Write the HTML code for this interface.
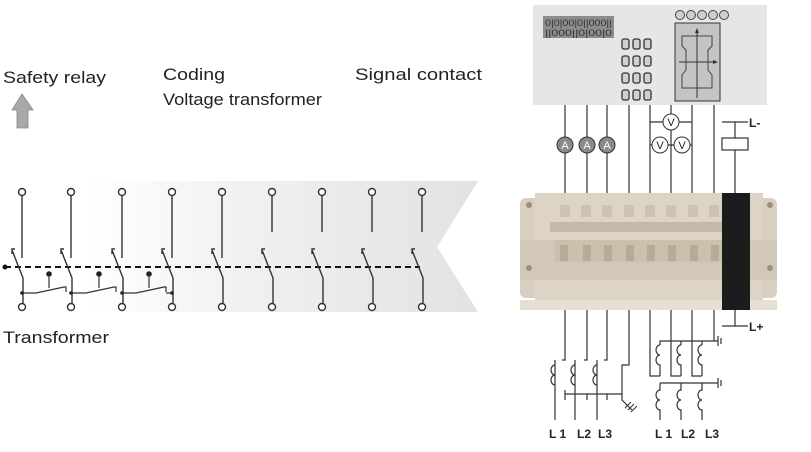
<!DOCTYPE html>
<html><head><meta charset="utf-8"><style>
html,body{margin:0;padding:0;background:#fff;}
svg{display:block;font-family:"Liberation Sans",sans-serif;}
</style></head><body>
<svg width="811" height="452" viewBox="0 0 811 452" xmlns="http://www.w3.org/2000/svg">
<defs>
<linearGradient id="g" x1="0" x2="1" y1="0" y2="0">
<stop offset="0" stop-color="#ffffff"/><stop offset="0.15" stop-color="#ffffff"/><stop offset="0.5" stop-color="#f0f0f0"/><stop offset="1" stop-color="#e2e2e2"/>
</linearGradient>
</defs>
<polygon points="20,181 478,181 437,247 478,312 20,312" fill="url(#g)"/>
<text x="3" y="83" font-size="17" fill="#222" textLength="103" lengthAdjust="spacingAndGlyphs">Safety relay</text>
<polygon points="22,94 33,110 28,110 28,128 17,128 17,110 12,110" fill="#a8a8a8" stroke="#888" stroke-width="0.8"/>
<text x="163" y="80" font-size="17" fill="#222" textLength="62" lengthAdjust="spacingAndGlyphs">Coding</text>
<text x="163" y="105" font-size="17" fill="#222" textLength="159" lengthAdjust="spacingAndGlyphs">Voltage transformer</text>
<text x="355" y="80" font-size="17" fill="#222" textLength="127" lengthAdjust="spacingAndGlyphs">Signal contact</text>
<text x="3" y="343" font-size="17" fill="#222" textLength="106" lengthAdjust="spacingAndGlyphs">Transformer</text>
<line x1="5" y1="267" x2="420" y2="267" stroke-dasharray="6,4" stroke-width="2" stroke="#111"/>
<circle cx="5" cy="267" r="2.5" fill="#111"/>
<g stroke="#333" stroke-width="1.4" fill="none">
<path d="M22,196 V258 M12,254 V249 H15 M12,250 L23,278 V303"/>
<path d="M71,196 V258 M61,254 V249 H64 M61,250 L72,278 V303"/>
<path d="M122,196 V258 M112,254 V249 H115 M112,250 L123,278 V303"/>
<path d="M172,196 V258 M162,254 V249 H165 M162,250 L173,278 V303"/>
<path d="M222,196 V258 M212,254 V249 H215 M212,250 L223,278 V303"/>
<path d="M272,196 V232 M262,254 V249 H265 M262,250 L273,278 V303"/>
<path d="M322,196 V232 M312,254 V249 H315 M312,250 L323,278 V303"/>
<path d="M372,196 V232 M362,254 V249 H365 M362,250 L373,278 V303"/>
<path d="M422,196 V232 M412,254 V249 H415 M412,250 L423,278 V303"/>
<path d="M22,293 H36 L64,287 H66 V292 M71,293 H86 L114,287 H116 V292 M122,293 H136 L164,287 H166 V292 M166,293 H172" stroke-width="1.2"/>
<path d="M49,277 V288 M99,277 V288 M149,277 V288" stroke-width="1.2"/>
</g>
<g fill="#222"><circle cx="49" cy="274" r="2.8"/><circle cx="99" cy="274" r="2.8"/><circle cx="149" cy="274" r="2.8"/>
<circle cx="22" cy="293" r="1.8"/><circle cx="71" cy="293" r="1.8"/><circle cx="122" cy="293" r="1.8"/><circle cx="172" cy="293" r="1.8"/></g>
<g fill="#fff" stroke="#333" stroke-width="1.4">
<circle cx="22" cy="192" r="3.5"/><circle cx="71" cy="192" r="3.5"/><circle cx="122" cy="192" r="3.5"/><circle cx="172" cy="192" r="3.5"/><circle cx="222" cy="192" r="3.5"/><circle cx="272" cy="192" r="3.5"/><circle cx="322" cy="192" r="3.5"/><circle cx="372" cy="192" r="3.5"/><circle cx="422" cy="192" r="3.5"/>
<circle cx="22" cy="307" r="3.5"/><circle cx="71" cy="307" r="3.5"/><circle cx="122" cy="307" r="3.5"/><circle cx="172" cy="307" r="3.5"/><circle cx="222" cy="307" r="3.5"/><circle cx="272" cy="307" r="3.5"/><circle cx="322" cy="307" r="3.5"/><circle cx="372" cy="307" r="3.5"/><circle cx="422" cy="307" r="3.5"/>
</g>

<rect x="533" y="5" width="234" height="100" fill="#e6e6e6"/>
<rect x="543" y="16" width="71" height="22" fill="#8c8c8c"/>
<text x="545" y="26" font-size="9" fill="#333" textLength="67" lengthAdjust="spacingAndGlyphs">0|0|00|0||000||</text>
<text x="545" y="36" font-size="9" fill="#333" textLength="67" lengthAdjust="spacingAndGlyphs">||000||0|00|0</text>
<g fill="#d0d0d0" stroke="#333" stroke-width="1.3">
<rect x="622" y="39" width="7" height="10" rx="2"/><rect x="633" y="39" width="7" height="10" rx="2"/><rect x="644" y="39" width="7" height="10" rx="2"/>
<rect x="622" y="56" width="7" height="10" rx="2"/><rect x="633" y="56" width="7" height="10" rx="2"/><rect x="644" y="56" width="7" height="10" rx="2"/>
<rect x="622" y="73" width="7" height="10" rx="2"/><rect x="633" y="73" width="7" height="10" rx="2"/><rect x="644" y="73" width="7" height="10" rx="2"/>
<rect x="622" y="90" width="7" height="10" rx="2"/><rect x="633" y="90" width="7" height="10" rx="2"/><rect x="644" y="90" width="7" height="10" rx="2"/>
</g>
<g fill="#cfcfcf" stroke="#444" stroke-width="1">
<circle cx="680" cy="15" r="4.5"/><circle cx="691" cy="15" r="4.5"/><circle cx="702" cy="15" r="4.5"/><circle cx="713" cy="15" r="4.5"/><circle cx="724" cy="15" r="4.5"/>
</g>
<rect x="675" y="23" width="45" height="78" fill="#c4c4c4" stroke="#333" stroke-width="1"/>
<path d="M682,36 H712 V46 L708,50 V70 L712,75 V88 H682 V75 L686,70 V50 L682,46 Z" fill="none" stroke="#444" stroke-width="1"/>
<path d="M697,98 V30 M679,62 H716" stroke="#333" stroke-width="1"/>
<polygon points="697,28 695,33 699,33" fill="#333"/><polygon points="718,62 713,60 713,64" fill="#333"/>

<g stroke="#333" stroke-width="1.2" fill="none">
<path d="M565,105 V195 M587,105 V195 M607,105 V195 M629,105 V195 M650,105 V195 M671,105 V195 M692,105 V195 M714,105 V195"/>
<path d="M650,122 H692 M650,145 H692"/>
<path d="M722,122 H748 M735,122 V195"/>
</g>
<rect x="722" y="138" width="26" height="12" fill="#fff" stroke="#333" stroke-width="1.2"/>
<text x="749" y="127" font-size="12" font-weight="bold" fill="#222">L-</text>
<g stroke="#333" stroke-width="1">
<circle cx="565" cy="145" r="8" fill="#8a8a8a"/><circle cx="587" cy="145" r="8" fill="#8a8a8a"/><circle cx="607" cy="145" r="8" fill="#8a8a8a"/>
<circle cx="671" cy="122" r="8" fill="#fff"/><circle cx="660" cy="145" r="8" fill="#fff"/><circle cx="682" cy="145" r="8" fill="#fff"/>
</g>
<g font-size="11" text-anchor="middle">
<text x="565" y="149" fill="#fff">A</text><text x="587" y="149" fill="#fff">A</text><text x="607" y="149" fill="#fff">A</text>
<text x="671" y="126" fill="#222">V</text><text x="660" y="149" fill="#222">V</text><text x="682" y="149" fill="#222">V</text>
</g>

<!-- terminal block -->
<rect x="520" y="198" width="257" height="100" rx="6" fill="#d8cfc0"/>
<rect x="535" y="193" width="228" height="117" fill="#ddd4c6"/>
<g fill="#cdc3b3">
<rect x="560" y="205" width="10" height="12"/><rect x="581" y="205" width="10" height="12"/><rect x="602" y="205" width="10" height="12"/><rect x="624" y="205" width="10" height="12"/><rect x="645" y="205" width="10" height="12"/><rect x="666" y="205" width="10" height="12"/><rect x="688" y="205" width="10" height="12"/><rect x="709" y="205" width="10" height="12"/>
</g>
<rect x="550" y="222" width="175" height="10" fill="#c4b9a8"/>
<rect x="520" y="240" width="257" height="40" fill="#d2c8b8"/>
<rect x="555" y="240" width="168" height="22" fill="#cbbfae"/>
<g fill="#b6aa98">
<rect x="560" y="245" width="8" height="16"/><rect x="583" y="245" width="8" height="16"/><rect x="604" y="245" width="8" height="16"/><rect x="626" y="245" width="8" height="16"/><rect x="647" y="245" width="8" height="16"/><rect x="668" y="245" width="8" height="16"/><rect x="690" y="245" width="8" height="16"/><rect x="711" y="245" width="8" height="16"/>
</g>
<rect x="520" y="300" width="257" height="10" fill="#e6dfd3"/>
<rect x="722" y="193" width="28" height="117" fill="#1c1c1c"/>
<circle cx="529" cy="205" r="3" fill="#9a8f80"/><circle cx="529" cy="268" r="3" fill="#9a8f80"/><circle cx="770" cy="205" r="3" fill="#9a8f80"/><circle cx="770" cy="268" r="3" fill="#9a8f80"/>

<g stroke="#333" stroke-width="1.2" fill="none">
<path d="M735,310 V326 M722,326 H748"/>
<path d="M565,310 V360 H562 M587,310 V360 H584 M607,310 V360 H604"/>
<path d="M555,360 V420 M575,360 V420 M597,360 V420"/>
<path d="M629,310 V365 H622 V400 L632,410 M565,394 H622 M565,390 V400 M587,394 V400 M607,394 V400"/>
<path d="M555,365 a4,5 0 1 0 0,10 a4,5 0 1 0 0,10 M575,365 a4,5 0 1 0 0,10 a4,5 0 1 0 0,10 M597,365 a4,5 0 1 0 0,10 a4,5 0 1 0 0,10"/>
<path d="M628,410 L634,404 M631,412 L637,406 M625,408 L631,402" stroke-width="1"/>
<path d="M650,310 V376 H660 M671,310 V376 H681 M692,310 V376 H702 M714,310 V341 H660 V345 M681,341 V345 M702,341 V345"/>
<path d="M660,345 a4,5 0 1 0 0,10 a4,5 0 1 0 0,10 V376 M681,345 a4,5 0 1 0 0,10 a4,5 0 1 0 0,10 V376 M702,345 a4,5 0 1 0 0,10 a4,5 0 1 0 0,10 V376"/>
<path d="M714,341 H718 M718,336 V346 M721,338 V344"/>
<path d="M660,383 H718 M718,378 V388 M721,380 V386"/>
<path d="M660,383 V390 a4,5 0 1 0 0,10 a4,5 0 1 0 0,10 V420 M681,383 V390 a4,5 0 1 0 0,10 a4,5 0 1 0 0,10 V420 M702,383 V390 a4,5 0 1 0 0,10 a4,5 0 1 0 0,10 V420"/>
</g>
<text x="749" y="331" font-size="12" font-weight="bold" fill="#222">L+</text>
<g font-size="12" font-weight="bold" fill="#222">
<text x="549" y="438">L 1</text><text x="577" y="438">L2</text><text x="598" y="438">L3</text>
<text x="655" y="438">L 1</text><text x="681" y="438">L2</text><text x="705" y="438">L3</text>
</g>
</svg>
</body></html>
